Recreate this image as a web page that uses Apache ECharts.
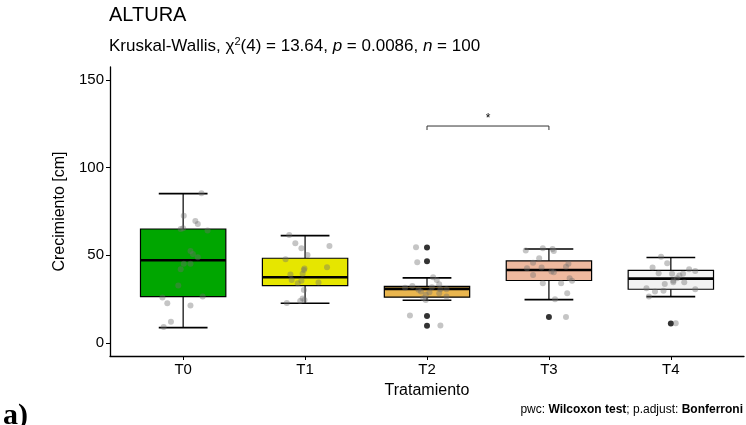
<!DOCTYPE html>
<html>
<head>
<meta charset="utf-8">
<script src="https://cdn.jsdelivr.net/npm/echarts@6/dist/echarts.min.js"></script>
<style>
  html, body { margin: 0; padding: 0; background: #fff; }
  #chart { width: 746px; height: 425px; }
</style>
</head>
<body>
<div id="chart"></div>
<script>
// grupos y colores (terrain.colors(5))
var categories = ['T0', 'T1', 'T2', 'T3', 'T4'];
var boxColors = ['#00A600', '#E6E600', '#EAB64E', '#EEB99F', '#F2F2F2'];

// [bigote inf, Q1, mediana, Q3, bigote sup]
var boxStats = [
    [8.7, 26.4, 47.2, 65.0, 85.2],
    [22.6, 32.7, 37.5, 48.3, 61.2],
    [24.3, 26.1, 30.8, 32.3, 37.1],
    [24.7, 35.6, 41.6, 46.8, 53.6],
    [26.4, 30.6, 36.7, 41.4, 48.7]
];

// outliers: [grupo, valor]
var outliers = [[2, 54.4], [2, 46.6], [2, 15.4], [2, 9.7], [3, 14.8], [4, 11.0]];

// puntos (jitter) por grupo: valores y desplazamiento horizontal
var t0Vals = [85.4, 72.6, 69.6, 67.9, 65.0, 64.1, 52.5, 50.8, 48.9, 45.1, 45.1, 42.0, 32.7, 25.9, 26.4, 22.6, 21.3, 12.1, 9.1, 65.5];
var t0Jit  = [0.15, 0.005, 0.1, 0.12, -0.02, 0.2, 0.06, 0.08, 0.12, 0.005, 0.06, -0.02, -0.04, -0.17, 0.16, -0.13, 0.06, -0.1, -0.16, 0.0];
var t1Vals = [61.6, 56.9, 54.0, 55.3, 50.2, 47.7, 43.2, 42.4, 39.5, 39.0, 35.9, 35.5, 34.0, 34.4, 30.2, 25.3, 24.5, 22.8, 41.6, 23.9];
var t1Jit  = [-0.13, -0.08, -0.03, 0.2, 0.02, -0.16, 0.18, -0.005, -0.02, -0.12, -0.11, -0.03, -0.06, 0.11, -0.01, -0.02, -0.005, -0.15, -0.01, -0.04];
var t2Vals = [54.6, 46.0, 37.5, 35.9, 32.5, 31.5, 33.5, 30.6, 30.6, 29.3, 27.4, 28.3, 25.5, 26.4, 24.5, 15.6, 9.9, 31.7, 30.3, 28.9];
var t2Jit  = [-0.09, -0.08, 0.05, 0.08, -0.12, -0.18, 0.1, 0.16, 0.11, -0.05, -0.01, 0.1, -0.03, 0.16, -0.01, -0.14, 0.11, 0.04, -0.07, 0.02];
var t3Vals = [52.7, 54.0, 53.6, 52.5, 48.3, 45.8, 45.1, 43.5, 42.6, 43.0, 40.7, 40.3, 38.8, 36.9, 35.5, 34.0, 34.0, 28.3, 24.9, 14.7];
var t3Jit  = [-0.19, -0.05, 0.03, 0.04, -0.08, -0.13, 0.16, 0.14, -0.18, -0.06, 0.02, 0.04, -0.13, 0.17, 0.19, -0.05, 0.1, 0.15, 0.05, 0.14];
var t4Vals = [49.2, 45.4, 43.0, 42.0, 41.1, 39.7, 39.4, 39.4, 38.4, 36.9, 35.5, 34.6, 33.6, 34.6, 31.2, 30.6, 29.3, 29.7, 26.4, 11.2];
var t4Jit  = [-0.08, -0.03, -0.15, 0.15, 0.2, -0.1, 0.01, 0.1, 0.07, 0.05, 0.02, 0.11, -0.05, 0.02, -0.2, 0.2, -0.13, -0.06, -0.18, 0.04];

// comparacion significativa: [grupo a, grupo b, altura, etiqueta]
var signif = [[2, 3, 123.8, '*']];

var yTicks = [0, 50, 100, 150];

var groupVals = [t0Vals, t1Vals, t2Vals, t3Vals, t4Vals];
var groupJit = [t0Jit, t1Jit, t2Jit, t3Jit, t4Jit];
var jitterData = [];
groupVals.forEach(function (vals, g) {
    vals.forEach(function (v, i) {
        jitterData.push([g + groupJit[g][i], v]);
    });
});

var boxData = boxStats.map(function (s, i) {
    return [i].concat(s);
});

var chart = echarts.init(document.getElementById('chart'));

var txt = '#000';
var fontFam = 'Liberation Sans, Arial, sans-serif';

chart.setOption({
    animation: false,
    backgroundColor: '#fff',
    textStyle: {fontFamily: fontFam},
    graphic: [
        {
            type: 'text', left: 109, top: 5,
            style: {text: 'ALTURA', font: '20px Liberation Sans, Arial, sans-serif', fill: txt}
        },
        {
            type: 'text', left: 109, top: 36,
            style: {
                text: '{n|Kruskal-Wallis, χ}{s|2}{n|(4) = 13.64, }{i|p}{n| = 0.0086, }{i|n}{n| = 100}',
                rich: {
                    n: {fontSize: 17, fontFamily: fontFam, fill: txt},
                    i: {fontSize: 17, fontFamily: fontFam, fontStyle: 'italic', fill: txt},
                    s: {fontSize: 11, fontFamily: fontFam, fill: txt, padding: [0, 0, 9, 0]}
                }
            }
        },
        {
            type: 'text', right: 3, top: 404,
            style: {
                text: '{n|pwc: }{b|Wilcoxon test}{n|; p.adjust: }{b|Bonferroni}',
                rich: {
                    n: {fontSize: 12, fontFamily: fontFam, fill: txt},
                    b: {fontSize: 12, fontFamily: fontFam, fontWeight: 'bold', fill: txt}
                }
            }
        },
        {
            type: 'text', left: 3, top: 401,
            style: {text: 'a)', font: 'bold 30px Liberation Serif, DejaVu Serif, serif', fill: txt}
        }
    ],
    grid: {left: 110, right: 2, top: 67, bottom: 69},
    xAxis: {
        type: 'value',
        min: -0.6,
        max: 4.6,
        name: 'Tratamiento',
        nameLocation: 'middle',
        nameGap: 27,
        nameTextStyle: {fontSize: 16, color: txt},
        splitLine: {show: false},
        axisLine: {show: true, onZero: false, lineStyle: {color: '#000', width: 1.3}},
        axisTick: {show: true, length: 4, lineStyle: {color: '#000'}, customValues: [0, 1, 2, 3, 4]},
        axisLabel: {
            fontSize: 15, color: txt, margin: 6,
            customValues: [0, 1, 2, 3, 4],
            formatter: function (v) { return categories[Math.round(v)]; }
        }
    },
    yAxis: {
        type: 'value',
        min: -7.5,
        max: 157.5,
        name: 'Crecimiento [cm]',
        nameLocation: 'middle',
        nameGap: 38,
        nameTextStyle: {fontSize: 16, color: txt},
        splitLine: {show: false},
        axisLine: {show: true, onZero: false, lineStyle: {color: '#000', width: 1.3}},
        axisTick: {show: true, length: 4, lineStyle: {color: '#000'}, customValues: yTicks},
        axisLabel: {fontSize: 15, color: txt, margin: 6, customValues: yTicks}
    },
    series: [
        {
            type: 'custom',
            data: boxData,
            z: 2,
            renderItem: function (params, api) {
                var g = api.value(0);
                var hw = 0.35, cw = 0.2;
                var lo = api.value(1), q1 = api.value(2), md = api.value(3), q3 = api.value(4), hi = api.value(5);
                var tl = api.coord([g - hw, q3]);
                var br = api.coord([g + hw, q1]);
                var c = function (x, y) { return api.coord([x, y]); };
                var lineSt = {stroke: '#000', lineWidth: 1.2};
                return {
                    type: 'group',
                    children: [
                        {type: 'line', shape: {x1: c(g, q3)[0], y1: c(g, q3)[1], x2: c(g, hi)[0], y2: c(g, hi)[1]}, style: lineSt},
                        {type: 'line', shape: {x1: c(g, q1)[0], y1: c(g, q1)[1], x2: c(g, lo)[0], y2: c(g, lo)[1]}, style: lineSt},
                        {type: 'line', shape: {x1: c(g - cw, hi)[0], y1: c(g, hi)[1], x2: c(g + cw, hi)[0], y2: c(g, hi)[1]}, style: {stroke: '#000', lineWidth: 1.6}},
                        {type: 'line', shape: {x1: c(g - cw, lo)[0], y1: c(g, lo)[1], x2: c(g + cw, lo)[0], y2: c(g, lo)[1]}, style: {stroke: '#000', lineWidth: 1.6}},
                        {
                            type: 'rect',
                            shape: {x: tl[0], y: tl[1], width: br[0] - tl[0], height: br[1] - tl[1]},
                            style: {fill: boxColors[g], stroke: '#000', lineWidth: 1.2}
                        },
                        {type: 'line', shape: {x1: tl[0], y1: c(g, md)[1], x2: br[0], y2: c(g, md)[1]}, style: {stroke: '#000', lineWidth: 2.6}}
                    ]
                };
            }
        },
        {
            type: 'scatter',
            data: outliers,
            symbol: 'circle',
            symbolSize: 6,
            itemStyle: {color: '#000'},
            z: 3
        },
        {
            type: 'scatter',
            data: jitterData,
            symbol: 'circle',
            symbolSize: 6,
            itemStyle: {color: 'rgba(110,110,110,0.5)'},
            z: 4
        },
        {
            type: 'custom',
            data: signif,
            z: 5,
            renderItem: function (params, api) {
                var a = api.coord([api.value(0), api.value(2)]);
                var b = api.coord([api.value(1), api.value(2)]);
                var d = 4;
                return {
                    type: 'group',
                    children: [
                        {type: 'polyline', shape: {points: [[a[0], a[1] + d], a, b, [b[0], b[1] + d]]}, style: {stroke: '#333', lineWidth: 1, fill: null}},
                        {type: 'text', style: {text: signif[params.dataIndex][3], x: (a[0] + b[0]) / 2, y: a[1] - 1, textAlign: 'center', textVerticalAlign: 'bottom', font: '12px Liberation Sans, Arial, sans-serif', fill: '#000'}}
                    ]
                };
            }
        }
    ]
});
</script>
</body>
</html>
